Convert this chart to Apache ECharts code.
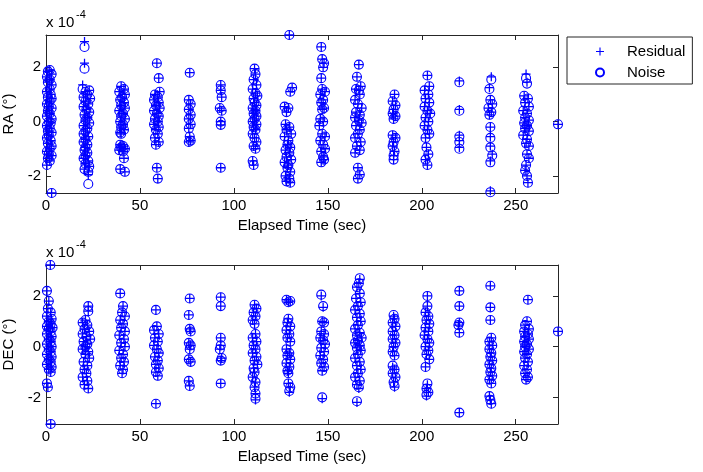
<!DOCTYPE html>
<html>
<head>
<meta charset="utf-8">
<script src="https://cdn.jsdelivr.net/npm/echarts@6/dist/echarts.min.js"></script>
<style>
html,body{margin:0;padding:0;background:#fff;}
#chart{width:703px;height:472px;}
</style>
</head>
<body>
<div id="chart"></div>
<script>
// ---- Data (values in units of 1e-4 deg) ----
const xTicks = [0, 50, 100, 150, 200, 250];
const yTicks = [-2, 0, 2];
const seriesNames = ['Residual', 'Noise'];

const raTime = [
  2,1,3,0.5,2,1,3,2,0.5,2.5,1,3,2,0.5,1.5,3,1,2,0.5,3,1.5,2.5,0.5,2,1,3,1.5,0.5,2.5,1,3,2,0.5,1.5,3,1,2,0.5,3,
  20.5,20.5,19.5,23,21,22,20,23.5,21,22.5,20,21.5,23,20.5,22,21,23,20,22,21,20,22.5,21,20,22,21,20.5,22,21,20,22.5,21,23,20.5,22.5,22.5,
  40,41.5,39,42,40.5,39.5,41.5,40,42,39,41,40,42,39.5,41,40,41.5,39.5,40,39.5,41,40,42,39,41,41.5,39.5,42,
  59,60,60.5,58,59.5,57.5,60,58.5,60.5,57.5,59,60,58,59.5,57.5,60,58.5,59.5,58,60,58.5,59,59.5,
  76.5,76,77,76,77,76,77,76,76.5,77,76,
  93,93,93.5,92.5,93.5,93,93,93,
  111,111.5,110.5,112,110,111.5,112.5,110.5,111,112,110,111.5,110.5,112,111,110,112,110.5,111.5,110,111,112,110.5,111.5,110,110.5,
  129.5,131,130,127,129,128,127.5,129.5,128,130.5,127,129,128.5,130,127.5,129.5,128,130.5,127,129,128.5,130,127.5,129.5,128,130,
  146.5,147,148,147.5,146.5,147,148.5,146,147.5,146.5,148,147,146,147.5,145.5,147,148.5,146,147.5,148.5,146.5,147.5,148,146.5,
  166.5,165.5,167.5,165,166.5,167,164.5,166,168,165,167,164.5,166.5,168,165,167,166,164.5,167.5,165.5,167,164.5,166,167,166,
  185.5,184.5,186,185,184.5,186,185,184.5,186,185,184.5,185.5,185,185,
  203,204,201.5,203.5,202,204,201.5,203,204.5,202,203.5,201.5,203,204,202,202.5,203.5,202,203,
  220,220,220,220,220,
  237,236,236.5,237.5,235.5,237,236,236.5,236.5,236.5,237.5,236.5,236.5,
  255.5,256,254.5,256.5,255,257,254,256,255,257,254.5,256,255,257,254,256,255.5,257,256,257,255.5,255,256,256.5,
  272.5
];
const raResidual = [
  1.9,1.85,1.75,1.65,1.55,1.45,1.35,1.2,1.1,1.0,0.9,0.85,0.75,0.65,0.55,0.5,0.4,0.3,0.2,0.1,0.0,-0.05,-0.15,-0.25,-0.35,-0.4,-0.5,-0.6,-0.7,-0.8,-0.9,-1.0,-1.1,-1.2,-1.25,-1.35,-1.45,-1.6,-2.63,
  2.95,2.15,1.35,1.15,1.1,1.0,0.9,0.85,0.75,0.65,0.55,0.45,0.35,0.25,0.15,0.05,-0.05,-0.15,-0.25,-0.35,-0.45,-0.55,-0.65,-0.75,-0.85,-0.95,-1.05,-1.15,-1.25,-1.35,-1.45,-1.55,-1.65,-1.75,-1.85,-1.95,
  1.3,1.2,1.1,1.0,0.9,0.8,0.7,0.6,0.5,0.4,0.3,0.2,0.1,0.0,-0.1,-0.2,-0.3,-0.4,-0.45,-0.85,-0.9,-0.95,-1.0,-1.05,-1.1,-1.35,-1.75,-1.85,
  2.15,1.6,1.1,1.0,0.9,0.8,0.7,0.6,0.5,0.4,0.3,0.2,0.1,0.0,-0.1,-0.2,-0.3,-0.45,-0.6,-0.75,-0.85,-1.7,-2.1,
  1.8,0.8,0.65,0.45,0.25,0.1,-0.1,-0.25,-0.55,-0.7,-0.75,
  1.35,1.15,0.9,0.5,0.4,0.0,-0.12,-1.7,
  1.95,1.75,1.55,1.35,1.2,1.05,0.95,0.85,0.7,0.6,0.5,0.4,0.3,0.2,0.1,0.0,-0.1,-0.2,-0.3,-0.45,-0.6,-0.75,-0.9,-1.0,-1.45,-1.6,
  3.19,1.25,1.1,0.55,0.5,0.35,-0.1,-0.2,-0.3,-0.45,-0.55,-0.7,-0.85,-0.95,-1.05,-1.15,-1.3,-1.4,-1.5,-1.6,-1.7,-1.85,-2.0,-2.1,-2.2,-2.25,
  2.75,2.3,2.15,2.0,1.6,1.2,1.1,1.0,0.8,0.7,0.5,0.45,0.1,0.0,-0.15,-0.45,-0.55,-0.7,-0.85,-1.0,-1.1,-1.3,-1.4,-1.5,
  2.1,1.65,1.3,1.2,1.15,1.0,0.8,0.65,0.5,0.35,0.25,0.15,0.05,-0.05,-0.15,-0.3,-0.45,-0.6,-0.75,-0.9,-1.05,-1.15,-1.7,-1.95,-2.1,
  1.0,0.75,0.6,0.45,0.3,0.2,0.1,-0.5,-0.6,-0.75,-0.9,-1.1,-1.25,-1.4,
  1.7,1.3,1.15,1.0,0.85,0.7,0.55,0.4,0.3,0.15,0.0,-0.15,-0.3,-0.45,-0.6,-0.95,-1.2,-1.4,-1.6,
  1.5,0.45,-0.5,-0.7,-0.95,
  1.65,1.25,0.8,0.65,0.5,0.35,0.25,-0.2,-0.55,-0.9,-1.2,-1.45,-2.55,
  1.75,1.45,0.95,0.85,0.7,0.55,0.4,0.3,0.15,0.05,-0.05,-0.15,-0.25,-0.35,-0.5,-0.65,-0.8,-0.9,-1.2,-1.35,-1.6,-1.8,-2.0,-2.25,
  -0.1
];
const raNoise = [
  1.9,1.85,1.75,1.65,1.55,1.45,1.35,1.2,1.1,1.0,0.9,0.85,0.75,0.65,0.55,0.5,0.4,0.3,0.2,0.1,0.0,-0.05,-0.15,-0.25,-0.35,-0.4,-0.5,-0.6,-0.7,-0.8,-0.9,-1.0,-1.1,-1.2,-1.25,-1.35,-1.45,-1.6,-2.63,
  2.75,1.95,1.2,1.15,1.1,1.0,0.9,0.85,0.75,0.65,0.55,0.45,0.35,0.25,0.15,0.05,-0.05,-0.15,-0.25,-0.35,-0.45,-0.55,-0.65,-0.75,-0.85,-0.95,-1.05,-1.15,-1.25,-1.35,-1.45,-1.55,-1.65,-1.75,-1.85,-2.3,
  1.3,1.2,1.1,1.0,0.9,0.8,0.7,0.6,0.5,0.4,0.3,0.2,0.1,0.0,-0.1,-0.2,-0.3,-0.4,-0.45,-0.85,-0.9,-0.95,-1.0,-1.05,-1.1,-1.35,-1.75,-1.85,
  2.15,1.6,1.1,1.0,0.9,0.8,0.7,0.6,0.5,0.4,0.3,0.2,0.1,0.0,-0.1,-0.2,-0.3,-0.45,-0.6,-0.75,-0.85,-1.7,-2.1,
  1.8,0.8,0.65,0.45,0.25,0.1,-0.1,-0.25,-0.55,-0.7,-0.75,
  1.35,1.15,0.9,0.5,0.4,0.0,-0.12,-1.7,
  1.95,1.75,1.55,1.35,1.2,1.05,0.95,0.85,0.7,0.6,0.5,0.4,0.3,0.2,0.1,0.0,-0.1,-0.2,-0.3,-0.45,-0.6,-0.75,-0.9,-1.0,-1.45,-1.6,
  3.19,1.25,1.1,0.55,0.5,0.35,-0.1,-0.2,-0.3,-0.45,-0.55,-0.7,-0.85,-0.95,-1.05,-1.15,-1.3,-1.4,-1.5,-1.6,-1.7,-1.85,-2.0,-2.1,-2.2,-2.25,
  2.75,2.3,2.15,2.0,1.6,1.2,1.1,1.0,0.8,0.7,0.5,0.45,0.1,0.0,-0.15,-0.45,-0.55,-0.7,-0.85,-1.0,-1.1,-1.3,-1.4,-1.5,
  2.1,1.65,1.3,1.2,1.15,1.0,0.8,0.65,0.5,0.35,0.25,0.15,0.05,-0.05,-0.15,-0.3,-0.45,-0.6,-0.75,-0.9,-1.05,-1.15,-1.7,-1.95,-2.1,
  1.0,0.75,0.6,0.45,0.3,0.2,0.1,-0.5,-0.6,-0.75,-0.9,-1.1,-1.25,-1.4,
  1.7,1.3,1.15,1.0,0.85,0.7,0.55,0.4,0.3,0.15,0.0,-0.15,-0.3,-0.45,-0.6,-0.95,-1.2,-1.4,-1.6,
  1.45,0.4,-0.55,-0.75,-1.0,
  1.55,1.2,0.8,0.65,0.5,0.35,0.25,-0.2,-0.6,-0.95,-1.25,-1.5,-2.6,
  1.6,1.4,0.95,0.85,0.7,0.55,0.4,0.3,0.15,0.05,-0.05,-0.15,-0.25,-0.35,-0.5,-0.65,-0.8,-0.9,-1.2,-1.35,-1.6,-1.8,-2.0,-2.25,
  -0.1
];

const decTime = [
  2.3,0.5,1.5,1,2.5,0.5,3,1.5,2.5,0.5,3.5,1.5,2.5,0.5,3,1.5,2.5,0.5,3,1.5,2.5,0.5,3,1.5,2.5,0.5,3,1.5,2.5,0.5,1,2.5,
  22.5,22.5,21,19.5,22,20.5,23,19.5,21.5,23.5,20,22,21,19.5,22.5,21,23,20,22,20.5,21.5,19.5,22,20.5,22.5,
  39.5,41,40.5,42,39.5,41,40,42,39,41.5,40,42,39,41,40,41.5,39.5,41,40.5,
  58.5,59,57.5,60,58,59.5,57.5,59,60,58,59.5,58.5,60,58.5,59.5,58.5,
  76.5,76,76.5,77,76,77,76.5,76,77,76,76.5,
  93,93,93,93,92.5,93.5,93,93,
  111,112,110.5,111.5,110,111,111.5,110,112,110.5,111.5,110,112,111,112.5,110.5,111,110,111.5,111,111.5,111.5,
  128,130,129,129,128.5,130,128,129.5,128.5,130,128,129.5,128.5,130,128,129.5,128.5,129,129,130,129.5,
  146.5,147.5,147,148,146.5,148,146,147.5,148.5,146.5,148,146,147.5,146.5,148,147,147,
  167,166.5,165.5,167,165,167.5,166,164.5,167,165.5,167.5,166,164.5,167,165.5,168,166,164.5,167,165.5,167.5,166,164.5,167,165.5,167.5,166,164.5,167,165.5,166.5,165.5,
  185,185.5,184.5,186,184.5,185.5,184.5,186,185,184.5,185.5,184.5,185.5,184.5,186,185,185.5,
  203,203,202,203.5,202.5,204,202,203.5,201.5,203,204,202,203.5,202.5,204,202,203,202.5,203.5,202.5,
  220,220,220,219.5,220,220,
  236.5,236.5,236.5,237,236,237.5,236,237,236.5,237.5,236,237,236.5,237.5,236,237,236,236.5,237,
  256.5,256,255,257,254.5,256.5,255,257,254.5,256,255,257,254.5,256,255,256.5,254.5,256,255,256.5,255.5,
  272.5
];
const decResidual = [
  3.22,2.2,1.8,1.5,1.35,1.2,1.1,1.0,0.9,0.8,0.75,0.7,0.6,0.5,0.4,0.3,0.2,0.1,0.0,-0.1,-0.2,-0.3,-0.4,-0.5,-0.6,-0.7,-0.8,-0.9,-1.0,-1.45,-1.6,-3.05,
  1.6,1.4,1.05,0.95,0.85,0.7,0.6,0.5,0.4,0.3,0.2,0.1,0.0,-0.1,-0.2,-0.3,-0.45,-0.6,-0.75,-0.9,-1.05,-1.2,-1.35,-1.5,-1.65,
  2.1,1.6,1.35,1.2,1.05,0.9,0.75,0.6,0.45,0.3,0.15,0.0,-0.15,-0.3,-0.45,-0.6,-0.75,-0.9,-1.05,
  1.45,0.8,0.65,0.5,0.35,0.2,0.05,-0.1,-0.25,-0.4,-0.55,-0.7,-0.85,-1.0,-1.15,-2.25,
  1.9,1.25,0.7,0.6,0.15,0.05,-0.1,-0.5,-0.6,-1.35,-1.55,
  1.95,1.6,0.35,0.05,-0.1,-0.45,-0.55,-1.45,
  1.65,1.5,1.35,1.2,1.05,0.9,0.5,0.35,0.2,0.05,-0.1,-0.25,-0.4,-0.55,-0.7,-0.85,-1.0,-1.2,-1.4,-1.6,-1.85,-2.1,
  1.85,1.8,1.75,1.1,0.95,0.8,0.65,0.5,0.35,0.2,-0.1,-0.25,-0.35,-0.5,-0.65,-0.8,-0.95,-1.05,-1.45,-1.6,-1.8,
  2.0,1.55,1.0,0.95,0.6,0.5,0.35,0.25,0.1,-0.05,-0.2,-0.35,-0.5,-0.65,-0.8,-0.95,-2.05,
  2.65,2.5,2.35,2.1,1.9,1.75,1.6,1.45,1.3,1.15,1.0,0.85,0.7,0.55,0.45,0.35,0.25,0.15,0.05,-0.05,-0.15,-0.3,-0.45,-0.6,-0.75,-0.9,-1.05,-1.2,-1.35,-1.5,-1.65,-2.2,
  1.2,1.1,0.95,0.8,0.6,0.45,0.3,0.15,0.0,-0.2,-0.35,-0.8,-0.9,-1.05,-1.2,-1.4,-1.6,
  2.0,1.6,1.35,1.2,1.05,0.9,0.75,0.6,0.45,0.3,0.15,0.0,-0.15,-0.3,-0.5,-0.8,-1.5,-1.65,-1.8,-1.95,
  2.2,1.6,0.95,0.85,0.55,-2.6,
  2.4,1.55,1.05,0.35,0.2,0.05,-0.1,-0.25,-0.4,-0.55,-0.7,-0.85,-1.0,-1.15,-1.3,-1.45,-1.95,-2.1,-2.25,
  1.85,1.0,0.85,0.7,0.6,0.5,0.4,0.3,0.2,0.1,0.0,-0.1,-0.2,-0.3,-0.45,-0.6,-0.75,-0.9,-1.05,-1.2,-1.3,
  0.6
];
const decNoise = [
  3.22,2.2,1.8,1.5,1.35,1.2,1.1,1.0,0.9,0.8,0.75,0.7,0.6,0.5,0.4,0.3,0.2,0.1,0.0,-0.1,-0.2,-0.3,-0.4,-0.5,-0.6,-0.7,-0.8,-0.9,-1.0,-1.45,-1.6,-3.05,
  1.6,1.4,1.05,0.95,0.85,0.7,0.6,0.5,0.4,0.3,0.2,0.1,0.0,-0.1,-0.2,-0.3,-0.45,-0.6,-0.75,-0.9,-1.05,-1.2,-1.35,-1.5,-1.65,
  2.1,1.6,1.35,1.2,1.05,0.9,0.75,0.6,0.45,0.3,0.15,0.0,-0.15,-0.3,-0.45,-0.6,-0.75,-0.9,-1.05,
  1.45,0.8,0.65,0.5,0.35,0.2,0.05,-0.1,-0.25,-0.4,-0.55,-0.7,-0.85,-1.0,-1.15,-2.25,
  1.9,1.25,0.7,0.6,0.15,0.05,-0.1,-0.5,-0.6,-1.35,-1.55,
  1.95,1.6,0.35,0.05,-0.1,-0.45,-0.55,-1.45,
  1.65,1.5,1.35,1.2,1.05,0.9,0.5,0.35,0.2,0.05,-0.1,-0.25,-0.4,-0.55,-0.7,-0.85,-1.0,-1.2,-1.4,-1.6,-1.85,-2.05,
  1.85,1.8,1.75,1.1,0.95,0.8,0.65,0.5,0.35,0.2,-0.1,-0.25,-0.35,-0.5,-0.65,-0.8,-0.95,-1.05,-1.45,-1.6,-1.75,
  2.05,1.6,1.0,0.95,0.6,0.5,0.35,0.25,0.1,-0.05,-0.2,-0.35,-0.5,-0.65,-0.8,-0.95,-2.0,
  2.7,2.5,2.35,2.1,1.9,1.75,1.6,1.45,1.3,1.15,1.0,0.85,0.7,0.55,0.45,0.35,0.25,0.15,0.05,-0.05,-0.15,-0.3,-0.45,-0.6,-0.75,-0.9,-1.05,-1.2,-1.35,-1.5,-1.6,-2.15,
  1.25,1.1,0.95,0.8,0.6,0.45,0.3,0.15,0.0,-0.2,-0.35,-0.75,-0.9,-1.05,-1.2,-1.4,-1.55,
  2.0,1.6,1.35,1.2,1.05,0.9,0.75,0.6,0.45,0.3,0.15,0.0,-0.15,-0.3,-0.5,-0.8,-1.45,-1.65,-1.8,-1.9,
  2.2,1.6,0.95,0.85,0.55,-2.6,
  2.4,1.55,1.05,0.35,0.2,0.05,-0.1,-0.25,-0.4,-0.55,-0.7,-0.85,-1.0,-1.15,-1.3,-1.45,-1.95,-2.1,-2.25,
  1.85,1.0,0.85,0.7,0.6,0.5,0.4,0.3,0.2,0.1,0.0,-0.1,-0.2,-0.3,-0.45,-0.6,-0.75,-0.9,-1.05,-1.2,-1.3,
  0.6
];

// ---- Chart ----
const FONT = '"Liberation Sans", Arial, Helvetica, sans-serif';
const AXIS_COLOR = '#262626';
const MARK = '#0000ff';
// filled thin cross
const PLUS = 'path://M-0.14,-1L0.14,-1L0.14,-0.14L1,-0.14L1,0.14L0.14,0.14L0.14,1L-0.14,1L-0.14,0.14L-1,0.14L-1,-0.14L-0.14,-0.14Z';

function pairs(t, v) { return t.map((x, i) => [x, v[i]]); }

function xAxes(gridIndex) {
  const base = {
    gridIndex, type: 'value', min: 0, max: 272.5,
    splitLine: { show: false },
    axisLine: { show: true, onZero: false, lineStyle: { color: AXIS_COLOR, width: 1 } },
    axisTick: { show: true, inside: true, length: 5, customValues: xTicks, lineStyle: { color: AXIS_COLOR } }
  };
  return [
    Object.assign({}, base, {
      position: 'bottom',
      axisLabel: { show: true, customValues: xTicks, margin: 5, fontSize: 15, color: '#000', fontFamily: FONT },
      name: 'Elapsed Time (sec)', nameLocation: 'middle', nameGap: 25,
      nameTextStyle: { fontSize: 15, color: '#000', fontFamily: FONT }
    }),
    Object.assign({}, base, { position: 'top', axisLabel: { show: false } })
  ];
}

function yAxes(gridIndex, min, max, name) {
  const base = {
    gridIndex, type: 'value', min, max,
    splitLine: { show: false },
    axisLine: { show: true, onZero: false, lineStyle: { color: AXIS_COLOR, width: 1 } },
    axisTick: { show: true, inside: true, length: 5, customValues: yTicks, lineStyle: { color: AXIS_COLOR } }
  };
  return [
    Object.assign({}, base, {
      position: 'left',
      axisLabel: { show: true, customValues: yTicks, margin: 5, fontSize: 15, color: '#000', fontFamily: FONT },
      name, nameLocation: 'middle', nameGap: 28, nameRotate: 90,
      nameTextStyle: { fontSize: 15, color: '#000', fontFamily: FONT }
    }),
    Object.assign({}, base, { position: 'right', axisLabel: { show: false } })
  ];
}

function scatter(name, xi, yi, data) {
  const isPlus = name === seriesNames[0];
  return {
    name, type: 'scatter', xAxisIndex: xi, yAxisIndex: yi, data,
    clip: false,
    symbol: isPlus ? PLUS : 'circle',
    symbolSize: 9,
    itemStyle: isPlus
      ? { color: MARK, borderWidth: 0, opacity: 1 }
      : { color: 'rgba(0,0,0,0)', borderColor: MARK, borderWidth: 1.1, opacity: 1 },
    emphasis: { disabled: true }
  };
}

const chart = echarts.init(document.getElementById('chart'), null, { renderer: 'canvas' });
chart.setOption({
  animation: false,
  backgroundColor: '#fff',
  textStyle: { fontFamily: FONT },
  grid: [
    { left: 46, top: 35, width: 512, height: 158, outerBoundsMode: 'none', containLabel: false },
    { left: 46, top: 265, width: 512, height: 159, outerBoundsMode: 'none', containLabel: false }
  ],
  xAxis: [].concat(xAxes(0), xAxes(1)),
  yAxis: [].concat(yAxes(0, -2.63, 3.19, 'RA (°)'), yAxes(1, -3.05, 3.22, 'DEC (°)')),
  legend: {
    data: seriesNames,
    orient: 'vertical',
    left: 567, top: 37,
    padding: [7, 7, 4, 28],
    itemWidth: 44, itemHeight: 8, itemGap: 6,
    backgroundColor: '#fff',
    borderColor: AXIS_COLOR, borderWidth: 1,
    selectedMode: false,
    textStyle: { fontSize: 15, color: '#000', fontFamily: FONT }
  },
  graphic: [
    { type: 'text', left: 46, top: 15, style: { text: 'x 10', fontSize: 15, fill: '#000', fontFamily: FONT } },
    { type: 'text', left: 76, top: 9, style: { text: '-4', fontSize: 11, fill: '#000', fontFamily: FONT } },
    { type: 'text', left: 46, top: 245, style: { text: 'x 10', fontSize: 15, fill: '#000', fontFamily: FONT } },
    { type: 'text', left: 76, top: 239, style: { text: '-4', fontSize: 11, fill: '#000', fontFamily: FONT } }
  ],
  series: [
    scatter('Residual', 0, 0, pairs(raTime, raResidual)),
    scatter('Noise', 0, 0, pairs(raTime, raNoise)),
    scatter('Residual', 2, 2, pairs(decTime, decResidual)),
    scatter('Noise', 2, 2, pairs(decTime, decNoise))
  ]
});
</script>
</body>
</html>
